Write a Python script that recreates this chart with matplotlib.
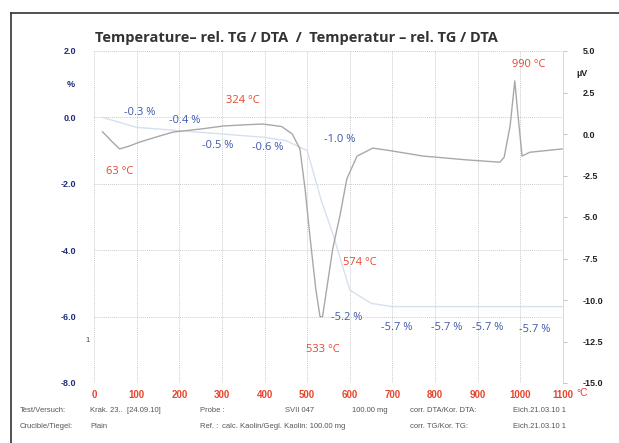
import matplotlib
matplotlib.use("Agg")
import matplotlib.pyplot as plt
from matplotlib.lines import Line2D

plt.rcParams['font.family'] = ['Liberation Sans', 'DejaVu Sans']

# ---- data ----
dta_temp = [20, 40, 60, 80, 108, 150, 186, 250, 303, 350, 396, 440, 465, 483, 495, 507,
            520, 530, 536, 546, 560, 577, 593, 617, 654, 694, 772, 870, 952, 962,
            976, 987, 993, 1004, 1022, 1060, 1098]
dta_uv = [0.13, -0.4, -0.9, -0.75, -0.48, -0.15, 0.12, 0.3, 0.48, 0.55, 0.6, 0.45, 0.0,
          -0.9, -3.3, -6.3, -9.3, -11.0, -11.0, -9.3, -6.9, -4.9, -2.7, -1.33, -0.85,
          -1.0, -1.33, -1.55, -1.7, -1.4, 0.5, 3.2, 1.5, -1.33, -1.1, -1.0, -0.9]

tg_temp = [20, 100, 200, 300, 400, 450, 500, 533, 560, 600, 650, 700, 800, 900, 1000, 1100]
tg_pct = [0.0, -0.3, -0.4, -0.5, -0.6, -0.7, -1.0, -2.5, -3.5, -5.2, -5.6, -5.7, -5.7,
          -5.7, -5.7, -5.7]

x_ticks = [0, 100, 200, 300, 400, 500, 600, 700, 800, 900, 1000, 1100]
left_ticks = [2.0, 0.0, -2.0, -4.0, -6.0, -8.0]
right_ticks = [5.0, 2.5, 0.0, -2.5, -5.0, -7.5, -10.0, -12.5, -15.0]

pct_labels = ["-0.3 %", "-0.4 %", "-0.5 %", "-0.6 %", "-1.0 %", "-5.2 %",
              "-5.7 %", "-5.7 %", "-5.7 %", "-5.7 %"]
pct_label_x = [106, 213, 291, 408, 577, 593, 711, 828, 924, 1034]
pct_label_y = [0.16, -0.08, -0.86, -0.92, -0.68, -6.04, -6.34, -6.34, -6.34, -6.40]

temp_labels = ["63 °C", "324 °C", "533 °C", "574 °C", "990 °C"]
temp_label_x = [61, 349, 537, 624, 1020]
temp_label_y = [-1.64, 0.52, -7.0, -4.36, 1.58]

RED = '#e8452c'
BLUE = '#3d58a8'
NAVY = '#1f2d7a'
LABEL_FONT = ['Open Sans', 'DejaVu Sans']

fig = plt.figure(figsize=(6.19, 4.43), dpi=100)
ax = fig.add_axes([94/619, 1-383/443, (563-94)/619, (383-51)/443])
ax2 = ax.twinx()

ax.set_xlim(0, 1100)
ax.set_ylim(-8, 2)
ax2.set_ylim(-15, 5)

# grid
for t in x_ticks:
    ax.axvline(t, color='#cccccc', lw=0.7, ls=(0, (1, 1)), zorder=0)
for v in left_ticks:
    ax.axhline(v, color='#cccccc', lw=0.7, ls=(0, (1, 1)), zorder=0)

ax.plot(tg_temp, tg_pct, color='#d6e0ef', lw=1.0, zorder=2)
ax2.plot(dta_temp, dta_uv, color='#a8a8a8', lw=1.0, zorder=3)

for s in ax.spines.values():
    s.set_visible(False)
for s in ax2.spines.values():
    s.set_visible(False)
ax2.spines['right'].set_visible(True)
ax2.spines['right'].set_color('#d8d8d8')
ax2.spines['right'].set_linewidth(0.7)

ax.set_xticks(x_ticks)
ax.set_xticklabels([str(t) for t in x_ticks], color=RED, fontsize=7, fontweight='bold')
ax.tick_params(axis='x', length=0, pad=5)
ax.set_yticks(left_ticks)
ax.set_yticklabels([f"{v:.1f}" for v in left_ticks], color=NAVY, fontsize=6.5,
                   fontweight='bold')
ax.tick_params(axis='y', length=0, pad=13)
ax2.set_yticks(right_ticks)
ax2.set_yticklabels([f"{v:.1f}" for v in right_ticks], color='#222222', fontsize=6.5,
                    fontweight='bold')
ax2.tick_params(axis='y', length=3, width=0.6, color='#bbbbbb', pad=11)

# unit labels
fig.text(71/619, 1-84/443, "%", color=NAVY, fontsize=6.5, fontweight='bold',
         ha='center', va='center')
fig.text(582/619, 1-73/443, "µV", color='#222222', fontsize=6.5, fontweight='bold',
         ha='center', va='center')
fig.text(582/619, 1-393/443, "°C", color=RED, fontsize=7.5, ha='center', va='center')
fig.text(88/619, 1-340/443, "1", color='#444444', fontsize=5.5, ha='center', va='center')

for txt, x, y in zip(pct_labels, pct_label_x, pct_label_y):
    ax.text(x, y, txt, color=BLUE, fontsize=8, ha='center', va='center', zorder=5,
            family=LABEL_FONT)
for txt, x, y in zip(temp_labels, temp_label_x, temp_label_y):
    ax.text(x, y, txt, color=RED, fontsize=8, ha='center', va='center', zorder=5,
            family=LABEL_FONT)

fig.text(296/619, 1-38/443, "Temperature– rel. TG / DTA  /  Temperatur – rel. TG / DTA",
         color='#333333', fontsize=10.5, fontweight='bold', ha='center', va='center',
         family=['Open Sans', 'DejaVu Sans'])

# footer
row1 = [(20, "Test/Versuch:"), (90, "Krak. 23..  [24.09.10]"), (200, "Probe :"),
        (285, "SVII 047"), (352, "100.00 mg"), (410, "corr. DTA/Kor. DTA:"),
        (513, "Eich.21.03.10 1")]
row2 = [(20, "Crucible/Tiegel:"), (90, "Plain"), (200, "Ref. :"),
        (222, "calc. Kaolin/Gegl. Kaolin: 100.00 mg"), (410, "corr. TG/Kor. TG:"),
        (513, "Eich.21.03.10 1")]
for x, t in row1:
    fig.text(x/619, 1-411/443, t, color='#555555', fontsize=5.5, ha='left', va='center')
for x, t in row2:
    fig.text(x/619, 1-426/443, t, color='#555555', fontsize=5.5, ha='left', va='center')

# outer frame lines
fig.add_artist(Line2D([11/619, 1.0], [1-13/443, 1-13/443], transform=fig.transFigure,
                      color='#333333', lw=1.2))
fig.add_artist(Line2D([11/619, 11/619], [0, 1-13/443], transform=fig.transFigure,
                      color='#333333', lw=1.2))

fig.savefig("out.png", dpi=100)
